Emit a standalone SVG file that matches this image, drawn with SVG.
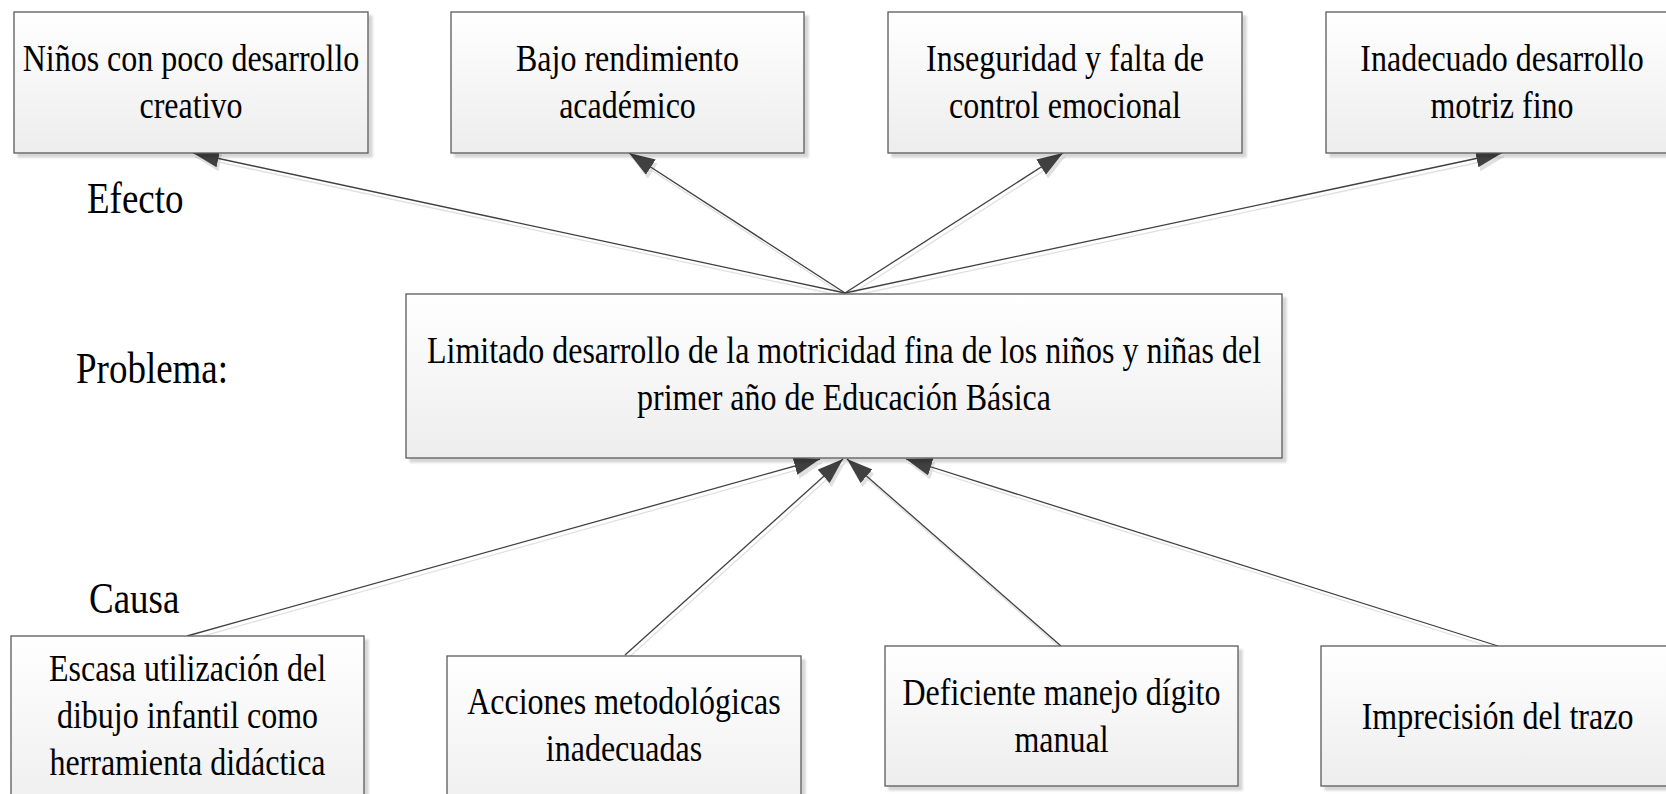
<svg xmlns="http://www.w3.org/2000/svg" width="1666" height="794" viewBox="0 0 1666 794">
<style>
.box{fill:url(#g);stroke:#5a5a5a;stroke-width:1.3;filter:url(#sh)}
.t{font-family:"Times New Roman","Liberation Serif",Tinos,"DejaVu Serif",serif;font-size:32px;fill:#000;text-anchor:middle}
.lbl{font-family:"Times New Roman","Liberation Serif",Tinos,"DejaVu Serif",serif;font-size:37px;fill:#000}
.c{stroke:#404040;stroke-width:1.3;fill:none;marker-end:url(#ah)}
</style>
<defs>
<linearGradient id="g" x1="0" y1="0" x2="0" y2="1">
<stop offset="0" stop-color="#ffffff"/>
<stop offset="1" stop-color="#ededed"/>
</linearGradient>
<filter id="sh" x="-5%" y="-5%" width="115%" height="120%">
<feDropShadow dx="4" dy="4" stdDeviation="0.8" flood-color="#000" flood-opacity="0.16"/>
</filter>
<filter id="lsh" x="-5%" y="-5%" width="115%" height="120%">
<feDropShadow dx="2" dy="4" stdDeviation="0.6" flood-color="#000" flood-opacity="0.12"/>
</filter>
<marker id="ah" markerUnits="userSpaceOnUse" markerWidth="26" markerHeight="18" refX="26" refY="9" orient="auto">
<path d="M0,0 L26,9 L0,18 z" fill="#404040"/>
</marker>
</defs>
<rect width="1666" height="794" fill="#ffffff"/>

<g id="connectors" filter="url(#lsh)">
<line class="c" x1="845" y1="293" x2="193" y2="153"/>
<line class="c" x1="845" y1="293" x2="629" y2="153"/>
<line class="c" x1="845" y1="293" x2="1063" y2="153"/>
<line class="c" x1="845" y1="293" x2="1502" y2="153"/>
<line class="c" x1="187" y1="636" x2="820" y2="459"/>
<line class="c" x1="625" y1="655" x2="843" y2="459"/>
<line class="c" x1="1061" y1="646" x2="847" y2="459"/>
<line class="c" x1="1498" y1="646" x2="906" y2="459"/>
</g>

<g id="efecto1">
<rect class="box" x="14" y="12" width="354" height="141"/>
<text class="t" transform="translate(191,71) scale(1,1.2)"><tspan x="0" y="0">Niños con poco desarrollo</tspan><tspan x="0" y="39">creativo</tspan></text>
</g>
<g id="efecto2">
<rect class="box" x="451" y="12" width="353" height="141"/>
<text class="t" transform="translate(627.5,71) scale(1,1.2)"><tspan x="0" y="0">Bajo rendimiento</tspan><tspan x="0" y="39">académico</tspan></text>
</g>
<g id="efecto3">
<rect class="box" x="888" y="12" width="354" height="141"/>
<text class="t" transform="translate(1065,71) scale(1,1.2)"><tspan x="0" y="0">Inseguridad y falta de</tspan><tspan x="0" y="39">control emocional</tspan></text>
</g>
<g id="efecto4">
<rect class="box" x="1326" y="12" width="354" height="141"/>
<text class="t" transform="translate(1502,71) scale(1,1.2)"><tspan x="0" y="0">Inadecuado desarrollo</tspan><tspan x="0" y="39">motriz fino</tspan></text>
</g>

<g id="problema">
<rect class="box" x="406" y="294" width="876" height="164"/>
<text class="t" transform="translate(844,363) scale(1,1.2)"><tspan x="0" y="0">Limitado desarrollo de la motricidad fina de los niños y niñas del</tspan><tspan x="0" y="39">primer año de Educación Básica</tspan></text>
</g>

<g id="causa1">
<rect class="box" x="11" y="636" width="353" height="190"/>
<text class="t" transform="translate(187.5,681) scale(1,1.2)"><tspan x="0" y="0">Escasa utilización del</tspan><tspan x="0" y="39">dibujo infantil como</tspan><tspan x="0" y="78">herramienta didáctica</tspan></text>
</g>
<g id="causa2">
<rect class="box" x="447" y="656" width="354" height="170"/>
<text class="t" transform="translate(624,714) scale(1,1.2)"><tspan x="0" y="0">Acciones metodológicas</tspan><tspan x="0" y="39">inadecuadas</tspan></text>
</g>
<g id="causa3">
<rect class="box" x="885" y="646" width="353" height="140"/>
<text class="t" transform="translate(1061.5,705) scale(1,1.2)"><tspan x="0" y="0">Deficiente manejo dígito</tspan><tspan x="0" y="39">manual</tspan></text>
</g>
<g id="causa4">
<rect class="box" x="1321" y="646" width="354" height="140"/>
<text class="t" transform="translate(1497.5,729) scale(1,1.2)">Imprecisión del trazo</text>
</g>

<g id="labels">
<text class="lbl" transform="translate(87,213) scale(1,1.2)">Efecto</text>
<text class="lbl" transform="translate(76,383) scale(1,1.2)">Problema:</text>
<text class="lbl" transform="translate(89,613) scale(1,1.2)">Causa</text>
</g>
</svg>
